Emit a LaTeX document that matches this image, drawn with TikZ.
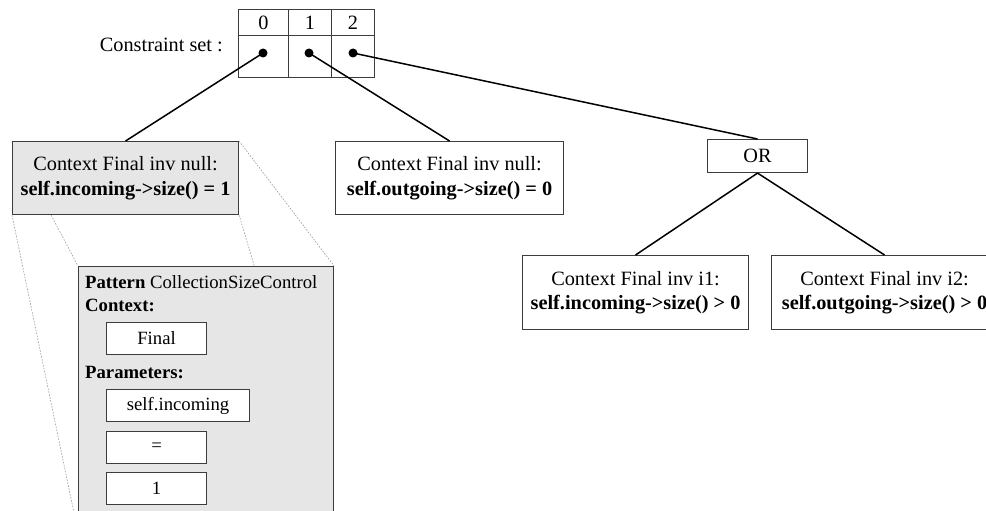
\documentclass[tikz,border=0pt]{standalone}
\usepackage{fontspec}
\setmainfont{Liberation Serif}
\usetikzlibrary{backgrounds}

\definecolor{boxline}{HTML}{3C3C3C}
\definecolor{boxfill}{HTML}{E6E6E6}
\definecolor{zoomline}{HTML}{9A9A9A}

\tikzset{
  every node/.style={font=\fontsize{20.3}{24.5}\selectfont},
  small/.style={font=\fontsize{18.7}{22}\selectfont},
  frame/.style={draw=boxline, line width=1.1pt, inner sep=0pt, anchor=north west,
                align=center},
  cell/.style={frame, minimum width=#1},
  constraint/.style={frame, minimum width=226pt, minimum height=73pt},
  shaded/.style={fill=boxfill},
  param/.style={frame, small, fill=white, minimum height=32pt, minimum width=#1},
  heading/.style={small, anchor=west, inner sep=0pt},
  link/.style={line width=1.5pt, black},
  zoomedge/.style={draw=zoomline, line width=0.6pt, dash pattern=on 1.6pt off 1.4pt},
  pin/.style={circle, fill=black, inner sep=0pt, minimum size=9pt}
}

\begin{document}
\begin{tikzpicture}[x=1pt, y=-1pt]
\useasboundingbox (0,0) rectangle (986,511);
\clip (0,0) rectangle (986,511);

% constraint set table
\node[anchor=east, inner sep=0pt] (label) at (223,45) {Constraint set :};
\node[cell=50pt, minimum height=26pt] (h0) at (238,9) {0};
\node[cell=43pt, minimum height=26pt] (h1) at (288,9) {1};
\node[cell=43pt, minimum height=26pt] (h2) at (331,9) {2};
\node[cell=50pt, minimum height=42pt] (c0) at (238,35) {};
\node[cell=43pt, minimum height=42pt] (c1) at (288,35) {};
\node[cell=43pt, minimum height=42pt] (c2) at (331,35) {};
\node[pin] (p0) at (263,53) {};
\node[pin] (p1) at (309,53) {};
\node[pin] (p2) at (353,53) {};

% constraints
\node[constraint, shaded] (null1) at (12,141)
  {Context Final inv null:\\\textbf{self.incoming->size() = 1}};
\node[constraint, minimum width=228pt] (null0) at (335,141)
  {Context Final inv null:\\\textbf{self.outgoing->size() = 0}};
\node[frame, minimum width=100pt, minimum height=33pt] (or) at (707,139) {OR};
\node[constraint, minimum height=74pt] (i1) at (522,255)
  {Context Final inv i1:\\\textbf{self.incoming->size() > 0}};
\node[constraint, minimum height=74pt] (i2) at (771,255)
  {Context Final inv i2:\\\textbf{self.outgoing->size() > 0}};

% pattern instance of the first constraint
\node[frame, shaded, minimum width=255pt, minimum height=265pt] (pattern) at (78,266) {};
\node[heading] (ptitle) at (85,282) {\textbf{Pattern} CollectionSizeControl};
\node[heading] (pctx) at (85,305) {\textbf{Context:}};
\node[param=100pt] (vfinal) at (106,322) {Final};
\node[heading] (pparams) at (85,373) {\textbf{Parameters:}};
\node[param=143pt] (vcoll) at (106,389) {self.incoming};
\node[param=100pt] (vop) at (106,431) {=};
\node[param=100pt] (vval) at (106,472) {1};

% connectors
\draw[link] (p0.center) -- (null1.north);
\draw[link] (p1.center) -- (null0.north);
\draw[link] (p2.center) -- (or.north);
\draw[link] (or.south) -- (i1.north);
\draw[link] (or.south) -- (i2.north);

% magnifying edges from the constraint to its pattern
\begin{pgfonlayer}{background}
  \clip (0,0) rectangle (986,511);
  \draw[zoomedge] (null1.north west) -- (pattern.north west);
  \draw[zoomedge] (null1.north east) -- (pattern.north east);
  \draw[zoomedge] (null1.south west) -- (pattern.south west);
  \draw[zoomedge] (null1.south east) -- (pattern.south east);
\end{pgfonlayer}
\end{tikzpicture}
\end{document}
